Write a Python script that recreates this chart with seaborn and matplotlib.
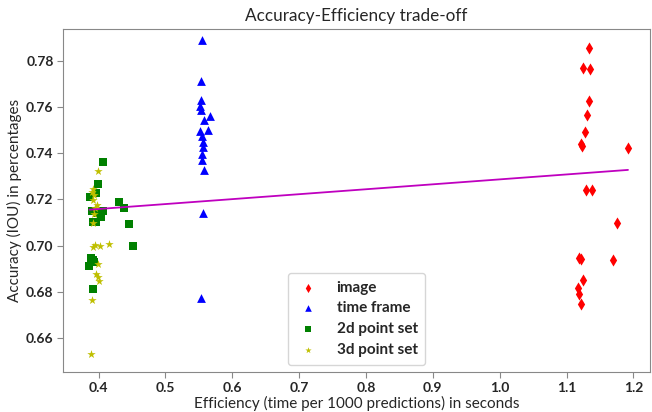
import matplotlib.pyplot as plt
import numpy as np
import pandas as pd
import seaborn as sns

sns.set_style("white")
plt.rcParams['font.family'] = ['Lato', 'DejaVu Sans']

# efficiency (s per 1000 predictions) and accuracy (IOU) per method
image_x = [1.134, 1.124, 1.135, 1.134, 1.130, 1.127, 1.122, 1.123, 1.192, 1.129, 1.138,
           1.175, 1.119, 1.122, 1.170, 1.124, 1.117, 1.118, 1.122]
image_y = [0.7855, 0.7771, 0.7767, 0.7627, 0.7565, 0.7493, 0.7440, 0.7431, 0.7425, 0.7243, 0.7240,
           0.7100, 0.6946, 0.6942, 0.6939, 0.6852, 0.6816, 0.6791, 0.6747]

frame_x = [0.5547, 0.5528, 0.5532, 0.5513, 0.5532, 0.5662, 0.5582, 0.5517, 0.5642, 0.5552,
           0.5557, 0.5562, 0.5547, 0.5547, 0.5577, 0.5557, 0.5528]
frame_y = [0.7891, 0.7713, 0.7631, 0.7605, 0.7588, 0.7562, 0.7545, 0.7497, 0.7501, 0.7475,
           0.7451, 0.7429, 0.7396, 0.7371, 0.7327, 0.7141, 0.6771]

pts2d_x = [0.4067, 0.3993, 0.3963, 0.3877, 0.4311, 0.4386, 0.3907, 0.4072, 0.3973, 0.4042,
           0.3913, 0.3963, 0.4451, 0.4511, 0.3883, 0.3922, 0.3937, 0.3862, 0.3922]
pts2d_y = [0.7364, 0.7268, 0.7230, 0.7210, 0.7187, 0.7165, 0.7148, 0.7151, 0.7141, 0.7123,
           0.7102, 0.7102, 0.7093, 0.7000, 0.6946, 0.6939, 0.6931, 0.6910, 0.6812]

pts3d_x = [0.3993, 0.3922, 0.3907, 0.3937, 0.3922, 0.3973, 0.3948, 0.3937, 0.3913, 0.3913,
           0.3948, 0.4022, 0.4161, 0.3988, 0.3963, 0.3988, 0.4007, 0.3907, 0.3892]
pts3d_y = [0.7324, 0.7245, 0.7234, 0.7220, 0.7198, 0.7177, 0.7162, 0.7138, 0.7100, 0.6993,
           0.7003, 0.7000, 0.7006, 0.6921, 0.6877, 0.6864, 0.6845, 0.6762, 0.6532]

groups = [
    ("image", image_x, image_y, "d", "r", 38),
    ("time frame", frame_x, frame_y, "^", "b", 40),
    ("2d point set", pts2d_x, pts2d_y, "s", "g", 34),
    ("3d point set", pts3d_x, pts3d_y, "*", "y", 40),
]

fig, ax = plt.subplots(figsize=(6.52, 4.12), dpi=100)
fig.subplots_adjust(left=0.097, right=0.997, bottom=0.096, top=0.93)

for name, xs, ys, mk, col, size in groups:
    df = pd.DataFrame({"x": xs, "y": ys})
    sns.scatterplot(data=df, x="x", y="y", marker=mk, color=col, s=size,
                    linewidth=0, label=name, ax=ax)

# linear fit over all points
all_x = np.concatenate([g[1] for g in groups])
all_y = np.concatenate([g[2] for g in groups])
m, b = np.polyfit(all_x, all_y, 1)
xs = np.sort(all_x)
ax.plot(xs, m * xs + b, color="m", lw=1.3)

ax.set_xlim(0.347, 1.225)
ax.set_ylim(0.645, 0.794)
ax.set_title("Accuracy-Efficiency trade-off", fontsize=12.3)
ax.set_xlabel("Efficiency (time per 1000 predictions) in seconds", fontsize=11, labelpad=1)
ax.set_ylabel("Accuracy (IOU) in percentages", fontsize=11, labelpad=3)
ax.set_xticks(np.arange(0.4, 1.21, 0.1))
ax.set_yticks(np.arange(0.66, 0.781, 0.02))
ax.xaxis.set_major_formatter(plt.FormatStrFormatter('%.1f'))
ax.yaxis.set_major_formatter(plt.FormatStrFormatter('%.2f'))
for lbl in ax.get_xticklabels() + ax.get_yticklabels():
    lbl.set_fontweight("bold")
    lbl.set_fontsize(10)
ax.tick_params(axis="both", length=4, pad=3, color="#888888", bottom=True, left=True)
for sp in ax.spines.values():
    sp.set_color("#888888")

leg = ax.legend(loc="lower center", markerscale=0.75, prop={"weight": "bold", "size": 11},
                borderpad=0.5, labelspacing=0.45, handlelength=1.6, handletextpad=1.1)

plt.savefig("out.png", dpi=100)
